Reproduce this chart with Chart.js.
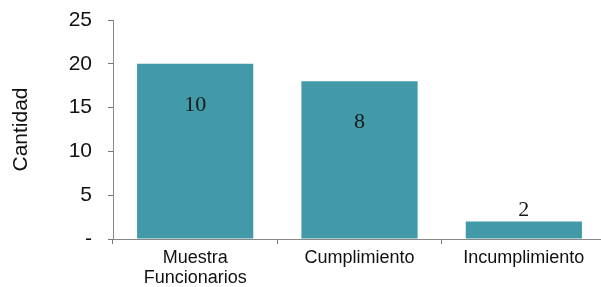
<!DOCTYPE html>
<html>
<head>
<meta charset="utf-8">
<script src="https://cdn.jsdelivr.net/npm/chart.js@4/dist/chart.umd.min.js"></script>
<style>
  html, body { margin: 0; padding: 0; background: #fff; overflow: hidden; }
  #wrap { width: 606px; height: 287px; }
</style>
</head>
<body>
<div id="wrap"><canvas id="chart"></canvas></div>
<script>
// data
const categories = [['Muestra', 'Funcionarios'], 'Cumplimiento', 'Incumplimiento'];
const barValues = [20, 18, 2];
const labelTexts = ['10', '8', '2'];
const yTicks = [0, 5, 10, 15, 20, 25];

// draws the numbers on the bars
const barLabels = {
  id: 'barLabels',
  afterDatasetsDraw(chart) {
    const ctx = chart.ctx;
    const meta = chart.getDatasetMeta(0);
    ctx.save();
    ctx.font = '22px "Liberation Serif", "DejaVu Serif", serif';
    ctx.fillStyle = '#1a1a1a';
    ctx.textAlign = 'center';
    ctx.textBaseline = 'middle';
    meta.data.forEach((bar, i) => {
      const h = bar.base - bar.y;
      const y = h > 60 ? bar.y + 41 : bar.y - 11;
      ctx.fillText(labelTexts[i], bar.x, y);
    });
    ctx.restore();
  }
};

new Chart(document.getElementById('chart'), {
  type: 'bar',
  data: {
    labels: categories,
    datasets: [{
      data: barValues,
      backgroundColor: '#429aa8',
      borderWidth: 0,
      categoryPercentage: 0.707,
      barPercentage: 1.0
    }]
  },
  options: {
    responsive: true,
    maintainAspectRatio: false,
    animation: false,
    layout: { padding: { top: 20, right: 0, left: 0, bottom: 0 } },
    plugins: {
      legend: { display: false },
      tooltip: { enabled: false }
    },
    scales: {
      x: {
        afterFit: axis => {
          axis.height = 48;
          axis.paddingLeft = 0;
          axis.paddingRight = 0;
        },
        grid: { display: true, drawOnChartArea: false, tickLength: 5, color: '#777', offset: true },
        border: { color: '#888', width: 1 },
        ticks: {
          color: '#111',
          font: { family: 'Liberation Sans, Arial, sans-serif', size: 18, lineHeight: 1.1 },
          maxRotation: 0,
          padding: 4
        }
      },
      y: {
        min: 0,
        max: 25,
        afterBuildTicks: axis => { axis.ticks = yTicks.map(v => ({ value: v })); },
        afterFit: axis => {
          axis.width = 113;
          axis.paddingTop = 0;
          axis.paddingBottom = 0;
        },
        grid: { display: true, drawOnChartArea: false, tickLength: 5, color: '#777' },
        border: { color: '#888', width: 1 },
        ticks: {
          color: '#111',
          font: { family: 'Liberation Sans, Arial, sans-serif', size: 21 },
          padding: 16,
          callback: v => v === 0 ? '-' : v
        },
        title: {
          display: true,
          text: 'Cantidad',
          color: '#111',
          font: { family: 'Liberation Sans, Arial, sans-serif', size: 21 },
          padding: { top: 9, bottom: 0 }
        }
      }
    }
  },
  plugins: [barLabels]
});
</script>
</body>
</html>
